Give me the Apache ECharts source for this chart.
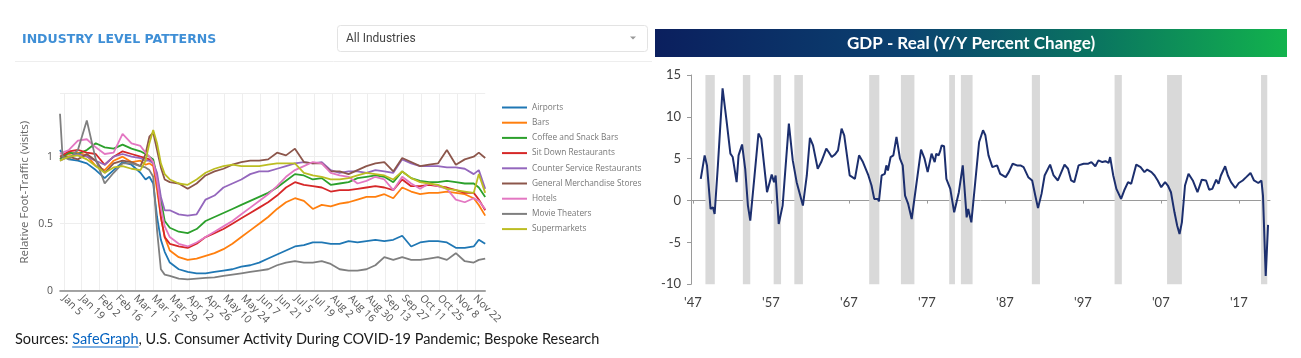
<!DOCTYPE html>
<html><head><meta charset="utf-8">
<script src="https://cdn.jsdelivr.net/npm/echarts@6/dist/echarts.min.js"></script>
<style>html,body{margin:0;padding:0;background:#fff}#c{width:1301px;height:358px}</style>
</head><body><div id="c"></div>
<script>
// ---------- Left panel: SafeGraph foot traffic ----------
const industries = ['Airports','Bars','Coffee and Snack Bars','Sit Down Restaurants','Counter Service Restaurants','General Merchandise Stores','Hotels','Movie Theaters','Supermarkets'];
const industryColors = ['#1f77b4','#ff7f0e','#2ca02c','#d62728','#9467bd','#8c564b','#e377c2','#7f7f7f','#bcbd22'];
const sampleDates = ['Jan 2','Jan 4','Jan 9','Jan 16','Jan 23','Jan 30','Feb 6','Feb 13','Feb 20','Feb 27','Mar 5','Mar 9','Mar 12','Mar 15','Mar 18','Mar 21','Mar 24','Mar 28','Apr 4','Apr 11','Apr 18','Apr 25','May 2','May 9','May 16','May 23','May 30','Jun 6','Jun 13','Jun 20','Jun 27','Jul 4','Jul 11','Jul 18','Jul 25','Aug 1','Aug 8','Aug 15','Aug 22','Aug 29','Sep 5','Sep 12','Sep 19','Sep 26','Oct 3','Oct 10','Oct 17','Oct 24','Oct 31','Nov 7','Nov 14','Nov 21','Nov 25','Nov 30'];
const airports     = [1.05,1.02,0.98,0.97,0.95,0.90,0.84,0.90,0.96,0.94,0.88,0.83,0.85,0.80,0.55,0.38,0.29,0.21,0.16,0.14,0.13,0.13,0.14,0.15,0.16,0.18,0.19,0.21,0.24,0.27,0.30,0.33,0.34,0.36,0.36,0.35,0.35,0.37,0.36,0.37,0.38,0.37,0.38,0.41,0.33,0.36,0.37,0.37,0.36,0.32,0.32,0.33,0.38,0.35];
const bars         = [1.00,1.00,1.02,1.03,1.01,0.93,0.90,0.97,1.00,0.96,0.97,0.94,0.95,0.93,0.75,0.55,0.40,0.30,0.25,0.23,0.24,0.26,0.28,0.31,0.35,0.40,0.45,0.50,0.55,0.61,0.66,0.69,0.67,0.61,0.64,0.63,0.65,0.66,0.68,0.70,0.70,0.72,0.69,0.77,0.74,0.72,0.73,0.73,0.74,0.73,0.72,0.69,0.64,0.56];
const coffee       = [0.98,1.00,1.03,1.02,1.05,1.10,1.07,1.06,1.09,1.06,1.04,1.02,1.00,0.98,0.85,0.68,0.52,0.47,0.44,0.43,0.46,0.52,0.55,0.58,0.61,0.64,0.67,0.70,0.73,0.77,0.82,0.87,0.86,0.83,0.84,0.79,0.80,0.81,0.84,0.85,0.86,0.85,0.81,0.89,0.84,0.82,0.81,0.81,0.82,0.81,0.80,0.80,0.77,0.70];
const sitDown      = [1.00,1.01,1.04,1.05,1.03,1.02,0.94,1.00,1.04,1.02,1.00,0.99,0.98,0.95,0.80,0.55,0.40,0.35,0.33,0.32,0.35,0.40,0.43,0.46,0.50,0.54,0.58,0.62,0.66,0.71,0.77,0.81,0.79,0.78,0.77,0.74,0.75,0.75,0.76,0.77,0.78,0.77,0.75,0.83,0.78,0.78,0.79,0.78,0.77,0.75,0.73,0.73,0.68,0.60];
const counterSvc   = [0.97,0.98,1.00,1.02,1.00,0.97,0.94,1.00,1.02,1.00,0.99,0.97,0.97,0.95,0.88,0.70,0.60,0.60,0.57,0.56,0.57,0.68,0.71,0.77,0.80,0.83,0.87,0.89,0.89,0.91,0.93,0.95,0.96,0.95,0.96,0.90,0.88,0.89,0.89,0.88,0.90,0.89,0.88,0.98,0.95,0.93,0.93,0.93,0.92,0.92,0.91,0.87,0.90,0.76];
const generalMerch = [1.00,1.00,1.00,0.98,1.02,0.97,0.88,0.95,0.97,0.96,0.93,1.02,1.15,1.18,1.05,0.92,0.83,0.81,0.80,0.76,0.80,0.86,0.89,0.91,0.94,0.96,0.97,0.97,0.98,1.03,1.01,1.06,0.96,0.95,0.95,0.89,0.89,0.87,0.90,0.93,0.95,0.96,0.89,0.99,0.96,0.93,0.94,0.95,1.05,0.94,0.98,1.00,1.03,0.99];
const hotels       = [1.02,1.03,1.05,1.12,1.13,1.07,1.02,1.03,1.17,1.10,1.08,1.03,1.00,0.96,0.82,0.62,0.48,0.40,0.35,0.33,0.36,0.40,0.44,0.48,0.52,0.57,0.62,0.67,0.72,0.78,0.85,0.90,0.93,0.96,0.95,0.88,0.86,0.85,0.80,0.82,0.85,0.83,0.75,0.85,0.80,0.76,0.80,0.78,0.76,0.68,0.66,0.69,0.67,0.61];
const movies       = [1.32,1.00,0.98,1.05,1.27,0.98,0.80,0.88,0.95,0.95,0.93,0.92,0.90,0.85,0.45,0.16,0.12,0.11,0.09,0.085,0.09,0.095,0.10,0.11,0.12,0.13,0.14,0.15,0.16,0.19,0.21,0.22,0.21,0.21,0.22,0.20,0.16,0.15,0.15,0.16,0.19,0.25,0.23,0.25,0.23,0.23,0.24,0.25,0.23,0.28,0.22,0.21,0.23,0.24];
const supermarkets = [0.97,0.98,1.00,1.01,0.98,0.93,0.88,0.92,0.93,0.91,0.90,0.97,1.10,1.20,1.10,0.95,0.87,0.83,0.80,0.79,0.83,0.88,0.91,0.93,0.94,0.93,0.93,0.93,0.94,0.95,0.95,0.95,0.88,0.86,0.85,0.83,0.83,0.84,0.86,0.88,0.87,0.86,0.83,0.89,0.84,0.81,0.80,0.79,0.76,0.75,0.74,0.73,0.87,0.73];
const trafficSeries = [airports,bars,coffee,sitDown,counterSvc,generalMerch,hotels,movies,supermarkets];
const dateTicks = ['Jan 5','Jan 19','Feb 2','Feb 16','Mar 1','Mar 15','Mar 29','Apr 12','Apr 26','May 10','May 24','Jun 7','Jun 21','Jul 5','Jul 19','Aug 2','Aug 16','Aug 30','Sep 13','Sep 27','Oct 11','Oct 25','Nov 8','Nov 22'];

// ---------- Right panel: Real GDP Y/Y ----------
const gdpYears = [1948.0,1948.5,1948.8,1949.26,1949.56,1949.78,1950.2,1950.8,1951.3,1951.8,1952.1,1952.6,1952.85,1953.3,1953.7,1954.05,1954.35,1954.9,1955.4,1955.76,1956.5,1957.1,1957.4,1957.6,1958.0,1958.5,1959.3,1959.8,1960.0,1960.3,1960.55,1961.1,1961.6,1962.0,1962.4,1963.0,1963.45,1964.1,1964.4,1964.8,1965.2,1965.6,1966.06,1966.4,1967.1,1967.77,1968.3,1968.8,1969.5,1969.9,1970.25,1970.7,1970.85,1971.2,1971.6,1971.8,1972.0,1972.35,1972.7,1973.1,1973.55,1973.9,1974.2,1974.6,1975.05,1975.3,1976.25,1976.7,1977.1,1977.6,1978.0,1978.2,1978.5,1978.7,1978.9,1979.2,1979.5,1980.0,1980.5,1981.1,1981.6,1981.8,1982.1,1982.3,1982.7,1983.2,1983.7,1984.2,1984.5,1984.9,1985.4,1986.0,1986.4,1987.1,1987.5,1988.0,1988.55,1989.0,1989.4,1990.0,1990.5,1990.9,1991.25,1991.7,1992.1,1992.8,1993.25,1993.8,1994.65,1995.1,1995.5,1995.9,1996.45,1997.1,1997.7,1998.1,1998.6,1999.0,1999.5,1999.9,2000.3,2000.5,2000.9,2001.3,2001.9,2002.3,2002.8,2003.2,2003.85,2004.4,2004.9,2005.25,2005.8,2006.2,2006.6,2007.05,2007.3,2007.55,2007.9,2008.3,2008.75,2009.1,2009.4,2009.7,2010.1,2010.55,2011.1,2011.7,2012.25,2012.8,2013.2,2013.6,2014.1,2014.4,2014.7,2015.25,2015.6,2016.0,2016.55,2017.0,2017.5,2017.95,2018.5,2018.95,2019.5,2019.9,2020.1,2020.45,2020.75];
const gdpValues = [2.6,5.4,4.2,-1.0,-0.8,-1.6,4.2,13.4,9.6,5.6,5.2,2.2,5.4,6.7,3.8,-0.6,-2.4,3.0,8.0,7.4,1.0,3.1,2.2,3.0,-2.8,-0.6,9.2,4.8,4.8,2.2,2.2,-0.6,3.0,7.5,6.6,3.8,4.6,6.2,5.8,5.2,5.5,6.0,8.6,7.8,3.0,2.6,5.4,4.6,3.0,1.8,0.2,0.2,-0.1,3.0,3.2,4.2,3.6,5.2,5.4,7.6,5.0,4.2,0.6,-0.4,-2.2,-2.0,6.1,5.0,3.4,5.6,4.6,5.6,5.4,5.9,6.6,6.5,2.6,1.4,-1.4,1.0,4.2,1.8,-2.0,-1.0,-2.6,2.2,7.0,8.4,7.8,5.4,4.0,4.2,3.2,2.8,3.4,4.4,4.2,4.2,4.0,2.8,2.4,0.6,-0.9,0.8,3.0,4.3,3.0,2.4,4.3,3.8,2.4,2.2,4.2,4.4,4.4,4.6,4.1,4.8,4.6,4.7,4.5,5.2,3.0,1.4,0.2,1.2,2.2,2.0,4.3,4.0,3.4,3.7,3.4,3.0,2.4,1.6,1.9,2.2,1.8,1.0,-1.4,-3.0,-4.0,-2.6,1.8,3.2,2.4,1.0,2.5,2.4,1.3,1.4,2.5,2.0,3.0,4.1,3.0,2.2,1.5,2.1,2.4,2.8,3.3,2.4,2.1,2.4,0.6,-9.0,-2.9];
const recessions = [[1948.6,1949.8],[1953.4,1954.35],[1957.35,1958.3],[1960.0,1961.1],[1969.6,1970.9],[1973.67,1975.4],[1979.86,1980.6],[1981.36,1982.86],[1990.46,1991.5],[2001.07,2002.0],[2007.8,2009.7],[2019.85,2020.65]];
const decadeTicks = [1947,1957,1967,1977,1987,1997,2007,2017];

// ---------- build ----------
const monthNames = ['Jan','Feb','Mar','Apr','May','Jun','Jul','Aug','Sep','Oct','Nov','Dec'];
const allDays = [];
for (let t = Date.UTC(2020,0,2); t <= Date.UTC(2020,10,30); t += 86400000) {
  const d = new Date(t);
  allDays.push(monthNames[d.getUTCMonth()] + ' ' + d.getUTCDate());
}
const isTick = (i) => dateTicks.indexOf(allDays[i]) >= 0;

const chart = echarts.init(document.getElementById('c'), null, {renderer:'canvas'});

const footFont = '14.5px Lato';
const mctx = document.createElement('canvas').getContext('2d');
mctx.font = footFont;
const wSrc = mctx.measureText('Sources: ').width;
const wSG = mctx.measureText('SafeGraph').width;

const trafficSeriesOpts = industries.map((name, k) => ({
  name, type: 'line', xAxisIndex: 0, yAxisIndex: 0,
  data: sampleDates.map((d, i) => [d, trafficSeries[k][i]]),
  showSymbol: false, color: industryColors[k],
  lineStyle: {width: 1.8, color: industryColors[k]},
  emphasis: {disabled: true}
}));

const option = {
  animation: false,
  backgroundColor: '#fff',
  grid: [
    {left: 60, right: 1301 - 485.2, top: 93.7, bottom: 67.3},
    {left: 691, right: 31, top: 75, bottom: 73.7}
  ],
  legend: {
    data: industries, orient: 'vertical', left: 497, top: 96.5,
    icon: 'rect', itemWidth: 25, itemHeight: 2, itemGap: 3.2,
    selectedMode: false,
    textStyle: {color: '#777', fontSize: 8.3, fontFamily: 'Open Sans', lineHeight: 12}
  },
  xAxis: [
    {type: 'category', gridIndex: 0, data: allDays, boundaryGap: false,
     axisLine: {lineStyle: {color: '#888', width: 1.6}},
     axisTick: {show: false},
     axisLabel: {interval: isTick, rotate: -45, color: '#555', fontSize: 10.5, fontFamily: 'Open Sans', margin: 6},
     splitLine: {show: true, interval: isTick, lineStyle: {color: '#eeeeee', width: 1}}},
    {type: 'value', gridIndex: 1, min: 1946.75, max: 2021, position: 'bottom',
     axisLine: {show: false, onZero: false}, axisTick: {show: false}, splitLine: {show: false},
     axisLabel: {customValues: decadeTicks, formatter: v => "'" + String(v).slice(2), color: '#404040', fontSize: 13, fontFamily: 'Lato', margin: 12}},
    {type: 'value', gridIndex: 1, min: 1946.75, max: 2021, position: 'top',
     axisLine: {show: true, onZero: true, lineStyle: {color: '#9a9a9a', width: 1}},
     axisTick: {show: true, inside: true, customValues: decadeTicks, length: 3, lineStyle: {color: '#9a9a9a'}},
     axisLabel: {show: false}, splitLine: {show: false}}
  ],
  yAxis: [
    {type: 'value', gridIndex: 0, min: 0, max: 1.47, interval: 0.5,
     axisLine: {show: false}, axisTick: {show: false},
     axisLabel: {color: '#555', fontSize: 10.5, fontFamily: 'Open Sans', margin: 7, showMaxLabel: false},
     splitLine: {lineStyle: {color: '#eeeeee'}},
     name: 'Relative Foot-Traffic (visits)', nameLocation: 'middle', nameGap: 29,
     nameTextStyle: {color: '#666', fontSize: 11.5, fontFamily: 'Open Sans'}},
    {type: 'value', gridIndex: 1, min: -10, max: 15, interval: 5,
     axisLine: {show: true, onZero: false, lineStyle: {color: '#9a9a9a'}},
     axisTick: {show: true, length: 4, lineStyle: {color: '#9a9a9a'}},
     axisLabel: {color: '#404040', fontSize: 13, fontFamily: 'Lato', margin: 10},
     splitLine: {show: false}}
  ],
  series: trafficSeriesOpts.concat([
    {name: 'GDP', type: 'line', xAxisIndex: 1, yAxisIndex: 1,
     data: gdpYears.map((y, i) => [y, gdpValues[i]]),
     showSymbol: false, lineStyle: {color: '#1c2f6e', width: 2}, color: '#1c2f6e',
     emphasis: {disabled: true},
     markArea: {silent: true, itemStyle: {color: '#d9d9d9'},
       data: recessions.map(r => [{xAxis: r[0]}, {xAxis: r[1]}])}}
  ]),
  graphic: [
    {type: 'text', left: 22, top: 33, style: {text: 'INDUSTRY LEVEL PATTERNS', fill: '#3f8fd6', font: 'bold 12.5px "DejaVu Sans"'}},
    {type: 'line', shape: {x1: 15, y1: 61.5, x2: 652, y2: 61.5}, style: {stroke: '#eeeeee', lineWidth: 1}},
    {type: 'rect', shape: {x: 337.5, y: 25.5, width: 310, height: 26, r: 3}, style: {fill: '#fff', stroke: '#e3e3e3', lineWidth: 1}},
    {type: 'text', x: 346, y: 38.5, style: {text: 'All Industries', fill: '#444', font: '12px Roboto', textVerticalAlign: 'middle'}},
    {type: 'polygon', shape: {points: [[630, 36.5], [636, 36.5], [633, 39.5]]}, style: {fill: '#999'}},
    {type: 'rect', shape: {x: 655, y: 29, width: 632, height: 28},
     style: {fill: new echarts.graphic.LinearGradient(0, 0, 1, 0, [
       {offset: 0, color: '#0b1f5e'}, {offset: 0.4, color: '#0b4270'}, {offset: 0.7, color: '#0a7560'}, {offset: 1, color: '#12b34d'}])}},
    {type: 'text', x: 971, y: 43.5, style: {text: 'GDP - Real (Y/Y Percent Change)', fill: '#fff', font: 'bold 17px Lato', textAlign: 'center', textVerticalAlign: 'middle'}},
    {type: 'text', x: 15, y: 339, style: {
      text: '{a|Sources: }{b|SafeGraph}{a|, U.S. Consumer Activity During COVID-19 Pandemic; Bespoke Research}',
      textVerticalAlign: 'middle',
      rich: {a: {fill: '#1a1a1a', font: footFont}, b: {fill: '#0563c1', font: footFont}}}},
    {type: 'line', shape: {x1: 15 + wSrc, y1: 347, x2: 15 + wSrc + wSG, y2: 347}, style: {stroke: '#0563c1', lineWidth: 1}}
  ]
};
chart.setOption(option);
</script>
</body></html>
